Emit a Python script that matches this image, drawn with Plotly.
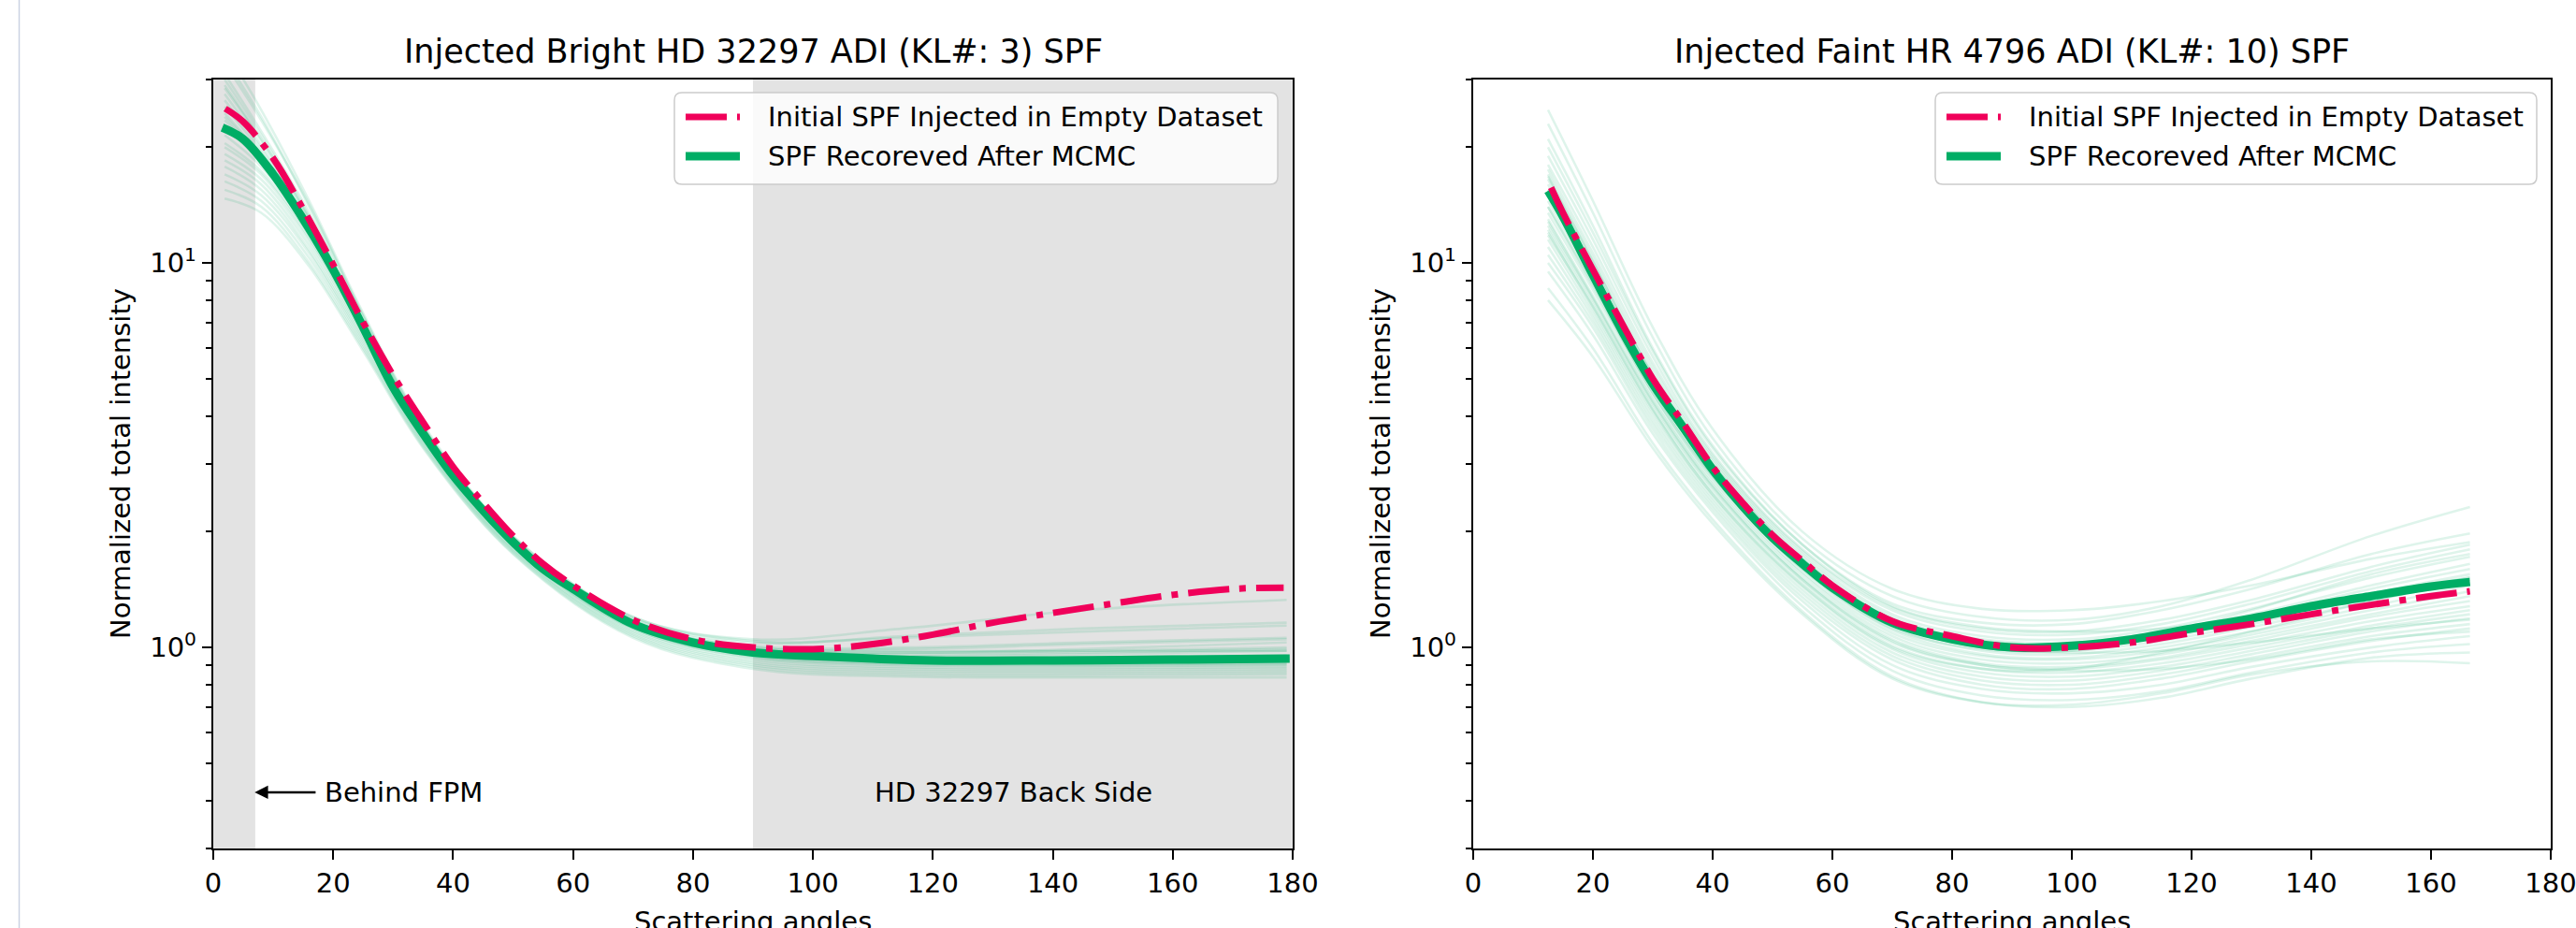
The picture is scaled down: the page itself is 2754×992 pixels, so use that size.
import math
import plotly.graph_objects as go

W, H = 2754, 992
FONT = "DejaVu Sans"
RED = "#F0005A"
GREEN = "#00AD65"
SAMPLE = "rgba(0,173,101,0.13)"
SHADE = "#E3E3E3"

# ---------------- data: left panel (Bright HD 32297, KL 3) ----------------
left_red_angles = [2, 5, 10, 15, 20, 25, 30, 35, 40, 45, 50, 55, 60, 70, 80, 90, 100,
                   110, 120, 130, 140, 150, 160, 170, 178.5]
left_red = [25.2, 23.3, 18.7, 13.8, 9.9, 7.0, 5.1, 3.85, 2.95, 2.38, 1.95, 1.65, 1.45,
            1.18, 1.05, 1.0, 0.99, 1.02, 1.08, 1.16, 1.23, 1.30, 1.37, 1.42, 1.43]
left_green_angles = [1.5, 5, 10, 15, 20, 25, 30, 35, 40, 45, 50, 55, 60, 70, 80, 90,
                     100, 110, 120, 140, 160, 179.5]
left_green = [22.5, 21.0, 17.0, 13.0, 9.6, 6.8, 4.75, 3.6, 2.8, 2.27, 1.88, 1.6, 1.42,
              1.15, 1.03, 0.97, 0.95, 0.935, 0.925, 0.925, 0.93, 0.935]
left_sample_angles = [1.9, 8, 16, 25, 35, 50, 70, 90, 115, 145, 179]
left_samples = [
    [36, 25, 14.5, 7.4, 3.8, 1.95, 1.2, 1.05, 1.12, 1.25, 1.33],
    [34, 24, 14.0, 7.25, 3.74, 1.93, 1.19, 1.03, 1.07, 1.12, 1.16],
    [31, 22, 13.5, 7.1, 3.7, 1.92, 1.18, 1.01, 1.0, 1.03, 1.06],
    [30, 21.5, 13.2, 7.0, 3.68, 1.91, 1.17, 1.0, 0.99, 1.02, 1.05],
    [28.5, 20.8, 13.0, 6.95, 3.66, 1.9, 1.17, 0.99, 0.97, 0.99, 1.03],
    [27.5, 20.2, 12.8, 6.9, 3.64, 1.9, 1.16, 0.99, 0.97, 0.98, 1.0],
    [26.5, 19.8, 12.6, 6.85, 3.62, 1.89, 1.16, 0.98, 0.96, 0.97, 0.99],
    [25.5, 19.4, 12.5, 6.8, 3.61, 1.88, 1.15, 0.975, 0.95, 0.96, 0.98],
    [24.5, 19.0, 12.4, 6.8, 3.6, 1.88, 1.15, 0.97, 0.94, 0.94, 0.95],
    [23.5, 18.8, 12.3, 6.78, 3.6, 1.87, 1.14, 0.965, 0.93, 0.93, 0.94],
    [22.5, 18.3, 12.1, 6.75, 3.59, 1.87, 1.14, 0.96, 0.925, 0.92, 0.93],
    [21.5, 17.8, 12.0, 6.7, 3.57, 1.86, 1.13, 0.955, 0.92, 0.91, 0.92],
    [20.5, 17.3, 11.8, 6.65, 3.55, 1.85, 1.13, 0.95, 0.91, 0.905, 0.91],
    [20, 17.0, 11.6, 6.6, 3.53, 1.84, 1.12, 0.945, 0.905, 0.9, 0.905],
    [19.2, 16.5, 11.4, 6.5, 3.5, 1.83, 1.12, 0.94, 0.9, 0.895, 0.9],
    [18.5, 16.0, 11.1, 6.4, 3.47, 1.82, 1.11, 0.93, 0.89, 0.885, 0.89],
    [17.8, 15.5, 10.8, 6.3, 3.43, 1.8, 1.10, 0.92, 0.88, 0.875, 0.88],
    [17.0, 15.0, 10.6, 6.2, 3.4, 1.79, 1.09, 0.91, 0.87, 0.865, 0.87],
    [16.3, 14.5, 10.3, 6.1, 3.37, 1.78, 1.08, 0.9, 0.86, 0.855, 0.86],
    [15.5, 14.0, 10.0, 6.0, 3.33, 1.76, 1.07, 0.89, 0.85, 0.845, 0.85],
    [14.7, 13.5, 9.8, 5.9, 3.3, 1.75, 1.06, 0.88, 0.84, 0.835, 0.835],
    [33, 23.5, 14.2, 7.3, 3.76, 1.94, 1.2, 1.04, 1.06, 1.1, 1.14],
    [29, 21.0, 13.1, 6.98, 3.67, 1.91, 1.17, 1.0, 0.98, 0.98, 0.98],
    [24, 18.9, 12.35, 6.8, 3.6, 1.88, 1.15, 0.97, 0.94, 0.945, 0.955],
]

# ---------------- data: right panel (Faint HR 4796, KL 10) ----------------
right_red_angles = [13, 15, 20, 25, 30, 35, 40, 45, 50, 55, 60, 70, 80, 90, 100, 110,
                    120, 130, 140, 150, 160, 166.5]
right_red = [15.7, 13.5, 9.6, 6.9, 5.0, 3.85, 2.95, 2.38, 1.96, 1.68, 1.45, 1.17, 1.07,
             1.0, 1.0, 1.03, 1.09, 1.15, 1.22, 1.29, 1.36, 1.40]
right_green_angles = [12.5, 15, 20, 25, 30, 35, 40, 45, 50, 55, 60, 70, 80, 90, 100,
                      110, 120, 130, 140, 150, 160, 166.5]
right_green = [15.4, 13.2, 9.3, 6.6, 4.85, 3.75, 2.9, 2.33, 1.93, 1.65, 1.43, 1.16, 1.05,
               1.0, 1.01, 1.05, 1.12, 1.19, 1.28, 1.36, 1.44, 1.48]
right_sample_angles = [12.5, 20, 30, 40, 55, 70, 85, 100, 115, 130, 150, 166.5]
right_samples = [
    [25, 14.5, 6.8, 3.7, 2.0, 1.42, 1.26, 1.25, 1.32, 1.45, 1.7, 1.88],
    [23, 13.5, 6.4, 3.5, 1.92, 1.36, 1.2, 1.18, 1.28, 1.5, 1.95, 2.32],
    [20, 12.0, 5.9, 3.3, 1.85, 1.3, 1.16, 1.15, 1.25, 1.42, 1.75, 1.98],
    [19, 11.5, 5.7, 3.2, 1.8, 1.27, 1.12, 1.1, 1.18, 1.33, 1.62, 1.85],
    [18, 11.0, 5.5, 3.15, 1.78, 1.25, 1.1, 1.08, 1.15, 1.3, 1.58, 1.8],
    [17.5, 10.6, 5.35, 3.1, 1.75, 1.22, 1.07, 1.05, 1.12, 1.26, 1.52, 1.72],
    [17, 10.3, 5.2, 3.05, 1.72, 1.2, 1.05, 1.03, 1.1, 1.22, 1.45, 1.65],
    [16.5, 10.0, 5.1, 3.0, 1.7, 1.18, 1.04, 1.02, 1.08, 1.2, 1.42, 1.6],
    [16, 9.8, 5.0, 2.95, 1.68, 1.17, 1.02, 1.0, 1.06, 1.17, 1.38, 1.55],
    [15.5, 9.5, 4.9, 2.9, 1.65, 1.15, 1.0, 0.98, 1.04, 1.15, 1.35, 1.52],
    [15, 9.2, 4.8, 2.85, 1.62, 1.13, 0.98, 0.96, 1.02, 1.13, 1.32, 1.5],
    [14.5, 9.0, 4.7, 2.8, 1.6, 1.11, 0.96, 0.94, 1.0, 1.1, 1.28, 1.45],
    [14, 8.7, 4.6, 2.75, 1.57, 1.09, 0.95, 0.93, 0.98, 1.08, 1.25, 1.4],
    [13.5, 8.5, 4.5, 2.7, 1.55, 1.07, 0.93, 0.91, 0.96, 1.06, 1.22, 1.36],
    [13, 8.2, 4.4, 2.65, 1.52, 1.05, 0.91, 0.89, 0.94, 1.04, 1.2, 1.32],
    [12.5, 8.0, 4.3, 2.6, 1.5, 1.03, 0.9, 0.88, 0.93, 1.02, 1.17, 1.28],
    [12.2, 7.8, 4.2, 2.55, 1.47, 1.01, 0.88, 0.86, 0.91, 1.0, 1.14, 1.25],
    [12, 7.6, 4.1, 2.5, 1.44, 0.99, 0.86, 0.84, 0.89, 0.98, 1.12, 1.22],
    [11.5, 7.4, 4.0, 2.45, 1.41, 0.97, 0.84, 0.82, 0.87, 0.96, 1.1, 1.19],
    [11, 7.2, 3.9, 2.4, 1.38, 0.95, 0.82, 0.8, 0.85, 0.94, 1.07, 1.15],
    [10.5, 7.0, 3.8, 2.35, 1.35, 0.93, 0.8, 0.78, 0.83, 0.92, 1.04, 1.12],
    [10, 6.8, 3.7, 2.3, 1.32, 0.9, 0.78, 0.76, 0.8, 0.89, 1.0, 1.07],
    [9.5, 6.5, 3.6, 2.25, 1.28, 0.87, 0.75, 0.73, 0.77, 0.86, 0.97, 1.02],
    [8.6, 6.0, 3.4, 2.15, 1.24, 0.84, 0.72, 0.70, 0.74, 0.83, 0.94, 0.97],
    [8.0, 5.7, 3.3, 2.1, 1.22, 0.83, 0.72, 0.71, 0.76, 0.85, 0.92, 0.91],
    [21, 12.5, 6.0, 3.35, 1.85, 1.28, 1.13, 1.1, 1.12, 1.2, 1.38, 1.52],
    [14, 8.8, 4.6, 2.78, 1.6, 1.12, 0.99, 0.98, 1.08, 1.25, 1.55, 1.75],
    [12.8, 8.1, 4.35, 2.62, 1.5, 1.04, 0.9, 0.87, 0.88, 0.93, 1.05, 1.1],
    [16.8, 10.1, 5.1, 3.0, 1.68, 1.15, 1.0, 0.97, 0.98, 1.03, 1.12, 1.18],
    [11.8, 7.7, 4.15, 2.5, 1.45, 1.0, 0.88, 0.88, 0.97, 1.1, 1.32, 1.5],
]

titles = ["Injected Bright HD 32297 ADI (KL#: 3) SPF",
          "Injected Faint HR 4796 ADI (KL#: 10) SPF"]
legend_labels = ["Initial SPF Injected in Empty Dataset", "SPF Recoreved After MCMC"]
x_ticks = [0, 20, 40, 60, 80, 100, 120, 140, 160, 180]
y_major = [1, 10]
y_major_text = ["10<sup>0</sup>", "10<sup>1</sup>"]
y_minor = [0.3, 0.4, 0.5, 0.6, 0.7, 0.8, 0.9, 2, 3, 4, 5, 6, 7, 8, 9, 20, 30]
fpm_edge = 7
back_side_start = 90

# ---------------- layout geometry (pixels) ----------------
panels = [(228, 1382), (1575, 2727)]
TOP, BOT = 85, 907


def px(x):
    return x / W


def py(y):
    return 1 - y / H


fig = go.Figure()

for i, (angles, samples, ra, rv, ga, gv) in enumerate([
        (left_sample_angles, left_samples, left_red_angles, left_red,
         left_green_angles, left_green),
        (right_sample_angles, right_samples, right_red_angles, right_red,
         right_green_angles, right_green)]):
    xa = "x" if i == 0 else "x2"
    ya = "y" if i == 0 else "y2"
    for s in samples:
        fig.add_trace(go.Scatter(x=angles, y=s, mode="lines", xaxis=xa, yaxis=ya,
                                 line=dict(color=SAMPLE, width=2.6, shape="spline"),
                                 showlegend=False, hoverinfo="skip"))
    fig.add_trace(go.Scatter(x=ga, y=gv, mode="lines", xaxis=xa, yaxis=ya,
                             line=dict(color=GREEN, width=9, shape="spline"),
                             showlegend=False))
    fig.add_trace(go.Scatter(x=ra, y=rv, mode="lines", xaxis=xa, yaxis=ya,
                             line=dict(color=RED, width=7, shape="spline",
                                       dash="44px,11px,7px,11px"),
                             showlegend=False))

tickfont = dict(family=FONT, size=29, color="black")
ax_common = dict(showline=True, linecolor="black", linewidth=2.4, mirror=True,
                 showgrid=False, zeroline=False, ticks="outside", ticklen=10,
                 tickwidth=2, tickcolor="black", tickfont=tickfont, automargin=False,
                 ticklabeloverflow="allow")
yrange = [math.log10(0.3), math.log10(30)]

layout = dict(
    width=W, height=H, autosize=False,
    margin=dict(l=0, r=0, t=0, b=0, pad=0, autoexpand=False),
    paper_bgcolor="white", plot_bgcolor="white", showlegend=False,
    font=dict(family=FONT, size=29, color="black"),
)
for i, (x0, x1) in enumerate(panels):
    sfx = "" if i == 0 else "2"
    layout["xaxis" + sfx] = dict(domain=[px(x0), px(x1)], range=[0, 180],
                                 tickvals=x_ticks, anchor="y" + sfx, **ax_common)
    layout["yaxis" + sfx] = dict(domain=[py(BOT), py(TOP)], type="log", range=yrange,
                                 tickvals=y_major, ticktext=y_major_text,
                                 anchor="x" + sfx,
                                 minor=dict(tickvals=y_minor, ticks="outside",
                                            ticklen=6, tickwidth=1.6,
                                            tickcolor="black"),
                                 **ax_common)
fig.update_layout(**layout)

shapes = []
# shaded regions on the left panel
shapes.append(dict(type="rect", xref="x", yref="y domain", x0=0, x1=fpm_edge, y0=0, y1=1,
                   fillcolor=SHADE, line=dict(width=0), layer="below"))
shapes.append(dict(type="rect", xref="x", yref="y domain", x0=back_side_start, x1=180,
                   y0=0, y1=1, fillcolor=SHADE, line=dict(width=0), layer="below"))
# thin page border line at far left
shapes.append(dict(type="line", xref="paper", yref="paper", x0=px(20.5), x1=px(20.5),
                   y0=0, y1=1, line=dict(color="#CBD3E3", width=1.5)))


def rounded_box(x0, y0, x1, y1, r=8):
    pts = (f"M {px(x0 + r)},{py(y0)} L {px(x1 - r)},{py(y0)} "
           f"Q {px(x1)},{py(y0)} {px(x1)},{py(y0 + r)} "
           f"L {px(x1)},{py(y1 - r)} Q {px(x1)},{py(y1)} {px(x1 - r)},{py(y1)} "
           f"L {px(x0 + r)},{py(y1)} Q {px(x0)},{py(y1)} {px(x0)},{py(y1 - r)} "
           f"L {px(x0)},{py(y0 + r)} Q {px(x0)},{py(y0)} {px(x0 + r)},{py(y0)} Z")
    return pts


annotations = []
legend_boxes = [(721, 99, 1366, 197), (2069, 99, 2712, 197)]
for (bx0, by0, bx1, by1) in legend_boxes:
    shapes.append(dict(type="path", xref="paper", yref="paper",
                       path=rounded_box(bx0, by0, bx1, by1),
                       fillcolor="rgba(255,255,255,0.8)",
                       line=dict(color="#CCCCCC", width=1.5), layer="above"))
    hx0 = bx0 + 12
    hx1 = hx0 + 58
    rows = [(125, RED, 7, "44px,11px,7px,11px"), (167, GREEN, 9, "solid")]
    for (ry, col, lw, dash), lab in zip(rows, legend_labels):
        shapes.append(dict(type="line", xref="paper", yref="paper",
                           x0=px(hx0), x1=px(hx1), y0=py(ry), y1=py(ry),
                           line=dict(color=col, width=lw, dash=dash), layer="above"))
        annotations.append(dict(xref="paper", yref="paper", x=px(hx0 + 86), y=py(ry),
                                xanchor="left", yanchor="middle", text=lab,
                                showarrow=False, font=dict(family=FONT, size=29)))

for i, (x0, x1) in enumerate(panels):
    cx = (x0 + x1) / 2
    annotations.append(dict(xref="paper", yref="paper", x=px(cx), y=py(55),
                            xanchor="center", yanchor="middle", text=titles[i],
                            showarrow=False, font=dict(family=FONT, size=35)))
    annotations.append(dict(xref="paper", yref="paper", x=px(cx), y=py(985),
                            xanchor="center", yanchor="middle", text="Scattering angles",
                            showarrow=False, font=dict(family=FONT, size=29)))
    annotations.append(dict(xref="paper", yref="paper", x=px(x0 - 99), y=py(496),
                            xanchor="center", yanchor="middle",
                            text="Normalized total intensity", textangle=-90,
                            showarrow=False, font=dict(family=FONT, size=29)))

# "Behind FPM" arrow and labels (log axis: annotation y in log10 units)
label_y = math.log10(0.42)
annotations.append(dict(xref="x", yref="y", x=fpm_edge - 0.1, y=label_y, axref="x", ayref="y",
                        ax=17.3, ay=label_y, text="", showarrow=True, arrowhead=2,
                        arrowsize=1.1, arrowwidth=2.6, arrowcolor="black", standoff=0))
annotations.append(dict(xref="x", yref="y", x=18.3, y=label_y, xanchor="left",
                        yanchor="middle", text="Behind FPM", showarrow=False,
                        font=dict(family=FONT, size=29)))
annotations.append(dict(xref="x", yref="y", x=133.5, y=label_y, xanchor="center",
                        yanchor="middle", text="HD 32297 Back Side", showarrow=False,
                        font=dict(family=FONT, size=29)))

fig.update_layout(shapes=shapes, annotations=annotations)
fig.write_html("out.html")
